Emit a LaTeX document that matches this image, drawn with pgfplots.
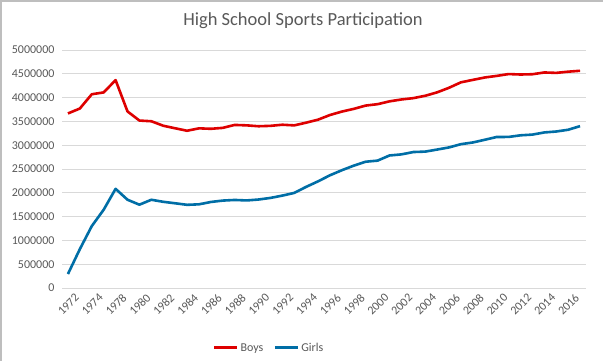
\documentclass[border=0pt]{standalone}
\usepackage{pgfplots}
\pgfplotsset{compat=1.18}
\usepackage{pgfplotstable}
\usepackage{fontspec}
\setmainfont{Carlito}
\definecolor{boysred}{RGB}{222,0,0}
\definecolor{girlsblue}{RGB}{0,110,166}
\definecolor{gridgray}{RGB}{217,217,217}
\definecolor{labgray}{RGB}{89,89,89}
\definecolor{bordergray}{RGB}{190,190,190}
\pgfplotstableread{
idx year boys girls
0 1972 3666917 294015
1 1973 3770621 817073
2 1974 4070125 1300169
3 1976 4109021 1645039
4 1978 4367442 2083040
5 1979 3709512 1854400
6 1980 3517829 1750264
7 1981 3503124 1853789
8 1982 3409081 1810671
9 1983 3355558 1779972
10 1984 3303599 1747346
11 1985 3354284 1757884
12 1986 3344275 1807121
13 1987 3364082 1836356
14 1988 3425777 1849684
15 1989 3416844 1839352
16 1990 3398192 1858659
17 1991 3406355 1892316
18 1992 3429853 1940801
19 1993 3416389 1997489
20 1994 3472967 2124755
21 1995 3536359 2240461
22 1996 3634052 2367936
23 1997 3706225 2474043
24 1998 3763120 2570271
25 1999 3832352 2652726
26 2000 3861749 2675874
27 2001 3921069 2784154
28 2002 3960517 2806998
29 2003 3988738 2856358
30 2004 4038253 2865299
31 2005 4110319 2908390
32 2006 4206549 2953355
33 2007 4321103 3021807
34 2008 4372115 3057266
35 2009 4422662 3114091
36 2010 4455740 3172637
37 2011 4494406 3173549
38 2012 4484987 3207533
39 2013 4490854 3222723
40 2014 4527994 3267664
41 2015 4519312 3287735
42 2016 4544574 3324326
43 2017 4563238 3400297
}\datatable
\begin{document}
\begin{tikzpicture}
\path[use as bounding box] (0pt,0pt) rectangle (603pt,361pt);
\fill[white] (0pt,0pt) rectangle (603pt,361pt);
\fill[bordergray] (0pt,0pt) rectangle (2pt,361pt);
\fill[bordergray] (0pt,359pt) rectangle (603pt,361pt);
\node[font=\fontsize{18.5}{22}\selectfont, text=labgray] at (303pt,340pt) {High School Sports Participation};
\begin{axis}[
  at={(62pt,73pt)}, anchor=south west,
  scale only axis, width=524pt, height=238pt,
  xmin=-0.5, xmax=43.5, ymin=0, ymax=5000000,
  axis line style={draw=none},
  axis lines*=left,
  major tick length=0pt,
  ytick={0,500000,...,5000000},
  xtick={0,2,...,42},
  xticklabels={1972,1974,1978,1980,1982,1984,1986,1988,1990,1992,1994,1996,1998,2000,2002,2004,2006,2008,2010,2012,2014,2016},
  ymajorgrids, grid style={gridgray, line width=0.8pt},
  scaled y ticks=false,
  /pgf/number format/.cd, fixed, 1000 sep={}, assume math mode=true,
  /pgfplots/.cd,
  tick label style={font=\fontsize{12}{14}\selectfont, text=labgray},
  yticklabel style={xshift=-4pt},
  xticklabel style={rotate=45, anchor=east, inner sep=1pt, yshift=-12pt, xshift=2pt},
  legend style={at={(0.395,-0.252)}, anchor=center, draw=none, fill=none,
    legend columns=2, font=\fontsize{12}{14}\selectfont, text=labgray,
    /tikz/every even column/.append style={column sep=8pt}},
  legend cell align=left,
  legend image code/.code={\draw[#1, line width=3pt] (0pt,0pt) -- (23pt,0pt);},
]
\addplot[boysred, line width=2.6pt, line join=round] table[x=idx, y=boys] {\datatable};
\addlegendentry{Boys}
\addplot[girlsblue, line width=2.6pt, line join=round] table[x=idx, y=girls] {\datatable};
\addlegendentry{Girls}
\end{axis}
\end{tikzpicture}
\end{document}
